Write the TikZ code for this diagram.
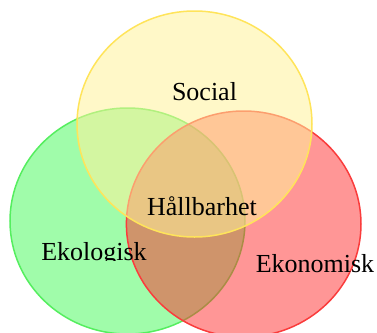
\documentclass[tikz,border=0pt]{standalone}
\usepackage{fontspec}
\setmainfont{Liberation Serif}
\definecolor{gfill}{RGB}{65,249,85}
\definecolor{gline}{RGB}{85,238,95}
\definecolor{rfill}{RGB}{255,45,45}
\definecolor{rline}{RGB}{250,60,60}
\definecolor{yfill}{RGB}{255,242,154}
\definecolor{yline}{RGB}{255,228,90}
\tikzset{
  lbl/.style={anchor=base, inner sep=0pt, font=\fontsize{26}{30}\selectfont, text=black},
  setshape/.style={line width=1.5pt},
}
\begin{document}
\begin{tikzpicture}[x=1pt,y=-1pt]
\useasboundingbox (0,0) rectangle (377,332);
\begin{scope}
\clip (0,0) rectangle (377,332);
\fill[gfill, fill opacity=0.5] (127.5,221) ellipse [x radius=117.5, y radius=113];
\draw[gline, setshape] (127.5,221) ellipse [x radius=117.5, y radius=113];
\fill[rfill, fill opacity=0.5] (243.7,224) ellipse [x radius=117.3, y radius=113];
\draw[rline, setshape] (243.7,224) ellipse [x radius=117.3, y radius=113];
\fill[yfill, fill opacity=0.54] (194.5,124) ellipse [x radius=117.5, y radius=113];
\draw[yline, setshape] (194.5,124) ellipse [x radius=117.5, y radius=113];
\end{scope}
\node[lbl] (social) at (204.5,100) {Social};
\node[lbl] (hall) at (202,215) {Hållbarhet};
\begin{scope}
\clip (0,0) rectangle (377,260.5);
\node[lbl] (eko) at (94,260) {Ekologisk};
\end{scope}
\node[lbl] (ekon) at (315,272) {Ekonomisk};
\end{tikzpicture}
\end{document}
